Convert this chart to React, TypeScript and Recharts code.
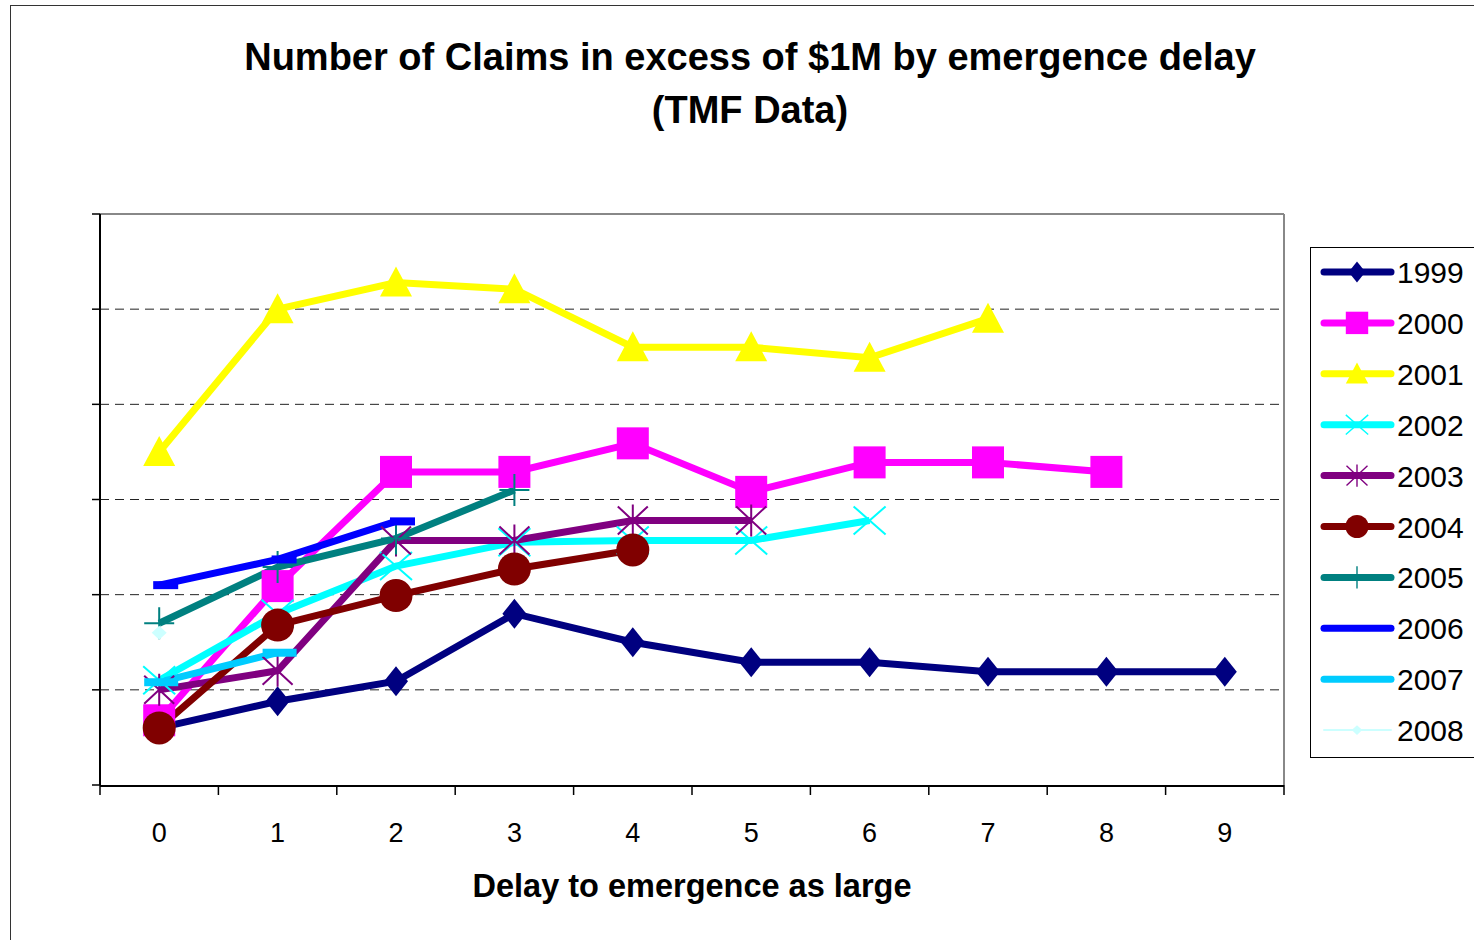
import React from 'react';
import { LineChart, Line, XAxis, YAxis, ReferenceLine, Legend } from 'recharts';

const FONT = '"Liberation Sans", Arial, sans-serif';

// Category axis: emergence delay in years
const delays = [0, 1, 2, 3, 4, 5, 6, 7, 8, 9];
const delayBounds = [-0.5, 0.5, 1.5, 2.5, 3.5, 4.5, 5.5, 6.5, 7.5, 8.5, 9.5];
const yTicks = [0, 10, 20, 30, 40, 50, 60];
const gridLevels = [10, 20, 30, 40, 50];

// Claims per accident year (unlabeled y scale)
const claims1999 = [6, 8.8, 10.9, 18, 15, 12.9, 12.9, 11.9, 11.9, 11.9];
const claims2000 = [6.8, 20.9, 32.9, 32.9, 35.9, 30.8, 33.9, 33.9, 32.9];
const claims2001 = [35, 50, 52.8, 52.1, 46, 46, 44.9, 49];
const claims2002 = [11, 18, 23, 25.5, 25.7, 25.7, 27.8];
const claims2003 = [10, 12, 25.7, 25.7, 27.8, 27.8];
const claims2004 = [6, 16.8, 19.9, 22.7, 24.7];
const claims2005 = [17, 22.9, 25.9, 31];
const claims2006 = [21, 23.7, 27.7];
const claims2007 = [10.8, 13.9];
const claims2008 = [16];

const series = [
  { key: 'y1999', name: '1999', values: claims1999, color: '#000080', marker: 'diamond', width: 7 },
  { key: 'y2000', name: '2000', values: claims2000, color: '#FF00FF', marker: 'square', width: 7 },
  { key: 'y2001', name: '2001', values: claims2001, color: '#FFFF00', marker: 'triangle', width: 7 },
  { key: 'y2002', name: '2002', values: claims2002, color: '#00FFFF', marker: 'x', width: 7 },
  { key: 'y2003', name: '2003', values: claims2003, color: '#800080', marker: 'star', width: 7 },
  { key: 'y2004', name: '2004', values: claims2004, color: '#800000', marker: 'circle', width: 7 },
  { key: 'y2005', name: '2005', values: claims2005, color: '#008080', marker: 'plus', width: 7 },
  { key: 'y2006', name: '2006', values: claims2006, color: '#0000FF', marker: 'dash', width: 7 },
  { key: 'y2007', name: '2007', values: claims2007, color: '#00CCFF', marker: 'dashWide', width: 7 },
  { key: 'y2008', name: '2008', values: claims2008, color: '#CCFFFF', marker: 'smallDiamond', width: 2 },
];

const data = delays.map((d, i) => {
  const row: any = { delay: d };
  series.forEach((s) => {
    row[s.key] = s.values[i] ?? null;
  });
  return row;
});

const markerShape = (kind: string, color: string, cx: number, cy: number) => {
  switch (kind) {
    case 'diamond':
      return <polygon points={`${cx},${cy - 15} ${cx + 12},${cy} ${cx},${cy + 15} ${cx - 12},${cy}`} fill={color} />;
    case 'square':
      return <rect x={cx - 16} y={cy - 16} width={32} height={32} fill={color} />;
    case 'triangle':
      return <polygon points={`${cx},${cy - 16} ${cx + 16},${cy + 14} ${cx - 16},${cy + 14}`} fill={color} />;
    case 'x':
      return (
        <path
          d={`M${cx - 16},${cy - 14}L${cx + 16},${cy + 14}M${cx + 16},${cy - 14}L${cx - 16},${cy + 14}`}
          stroke={color}
          strokeWidth={2}
        />
      );
    case 'star':
      return (
        <path
          d={`M${cx - 15},${cy - 14}L${cx + 15},${cy + 14}M${cx + 15},${cy - 14}L${cx - 15},${cy + 14}M${cx},${cy - 16}L${cx},${cy + 16}`}
          stroke={color}
          strokeWidth={2}
        />
      );
    case 'circle':
      return <circle cx={cx} cy={cy} r={16.5} fill={color} />;
    case 'plus':
      return <path d={`M${cx - 15},${cy}L${cx + 15},${cy}M${cx},${cy - 16}L${cx},${cy + 16}`} stroke={color} strokeWidth={2} />;
    case 'dash':
      return <rect x={cx - 6} y={cy - 4} width={25} height={8} fill={color} />;
    case 'dashWide':
      return <rect x={cx - 15} y={cy - 4} width={34} height={8} fill={color} />;
    case 'smallDiamond':
      return <polygon points={`${cx},${cy - 7} ${cx + 7.5},${cy} ${cx},${cy + 7} ${cx - 7.5},${cy}`} fill={color} />;
    default:
      return null;
  }
};

const makeDot = (kind: string, color: string) => (props: any) => {
  const { cx, cy, index, value } = props;
  if (value == null || cx == null || cy == null) return <g key={`d-${index}`} />;
  return <g key={`d-${index}`}>{markerShape(kind, color, cx, cy)}</g>;
};

// axes that only show tick marks, no labels
const NoLabel = () => <g />;

const LegendBox = () => (
  <div style={{ width: 200, height: 511, border: '1px solid #000', boxSizing: 'border-box', background: '#fff' }}>
    <svg width={200} height={511} style={{ display: 'block' }}>
      {series.map((s, i) => {
        const cy = 24 + i * 50.9;
        return (
          <g key={s.key}>
            <line x1={13} x2={80} y1={cy} y2={cy} stroke={s.color} strokeWidth={s.width} strokeLinecap="round" />
            <g transform={`translate(46, ${cy}) scale(0.7)`}>{markerShape(s.marker, s.color, 0, 0)}</g>
            <text x={86} y={cy + 11} fontSize={30} fontFamily={FONT} fill="#000">
              {s.name}
            </text>
          </g>
        );
      })}
    </svg>
  </div>
);

export default function App() {
  return (
    <div style={{ position: 'fixed', left: 0, top: 0, width: 1474, height: 940, overflow: 'hidden', background: '#fff' }}>
      <div
        style={{
          position: 'absolute',
          left: 10,
          top: 5,
          width: 1600,
          height: 1100,
          border: '1.5px solid #333',
        }}
      />
      <div style={{ position: 'absolute', left: 0, top: 0 }}>
        <LineChart width={1474} height={940} data={data} margin={{ top: 214, right: 190, bottom: 153, left: 99 }}>
          {gridLevels.map((g) => (
            <ReferenceLine key={`g-${g}`} xAxisId="main" y={g} stroke="#222" strokeDasharray="9 6" />
          ))}
          <ReferenceLine xAxisId="main" y={60} stroke="#888" strokeWidth={2} />
          <ReferenceLine xAxisId="main" x={9.5} stroke="#888" strokeWidth={2} />
          <XAxis
            xAxisId="main"
            type="number"
            dataKey="delay"
            domain={[-0.5, 9.5]}
            allowDataOverflow
            ticks={delays}
            interval={0}
            height={1}
            tickLine={false}
            axisLine={{ stroke: '#000', strokeWidth: 2 }}
            tickSize={8}
            tickMargin={29}
            tick={{ fill: '#000', fontSize: 27, fontFamily: FONT }}
          />
          <XAxis
            xAxisId="bounds"
            type="number"
            dataKey="delay"
            domain={[-0.5, 9.5]}
            allowDataOverflow
            ticks={delayBounds}
            interval={0}
            height={1}
            axisLine={false}
            tick={NoLabel}
            tickSize={10}
            tickLine={{ stroke: '#000', strokeWidth: 1.5 }}
          />
          <YAxis
            type="number"
            domain={[0, 60]}
            allowDataOverflow
            ticks={yTicks}
            interval={0}
            width={1}
            tick={NoLabel}
            tickSize={8}
            axisLine={{ stroke: '#000', strokeWidth: 2 }}
            tickLine={{ stroke: '#000', strokeWidth: 1.5 }}
          />
          {series.map((s) => (
            <Line
              key={s.key}
              xAxisId="main"
              type="linear"
              dataKey={s.key}
              name={s.name}
              stroke={s.color}
              strokeWidth={s.width}
              dot={makeDot(s.marker, s.color)}
              activeDot={false}
              isAnimationActive={false}
            />
          ))}
          <Legend
            layout="horizontal"
            align="center"
            verticalAlign="middle"
            content={() => <LegendBox />}
            wrapperStyle={{ left: 1310, top: 247, width: 200, height: 511 }}
          />
        </LineChart>
      </div>
      <div
        style={{
          position: 'absolute',
          left: 0,
          top: 31,
          width: 1500,
          textAlign: 'center',
          fontFamily: FONT,
          fontWeight: 'bold',
          fontSize: 38,
          lineHeight: '53px',
          color: '#000',
        }}
      >
        Number of Claims in excess of $1M by emergence delay
        <br />
        (TMF Data)
      </div>
      <div
        style={{
          position: 'absolute',
          left: 0,
          top: 866,
          width: 1384,
          textAlign: 'center',
          fontFamily: FONT,
          fontWeight: 'bold',
          fontSize: 32.5,
          lineHeight: '40px',
          color: '#000',
        }}
      >
        Delay to emergence as large
      </div>
    </div>
  );
}
